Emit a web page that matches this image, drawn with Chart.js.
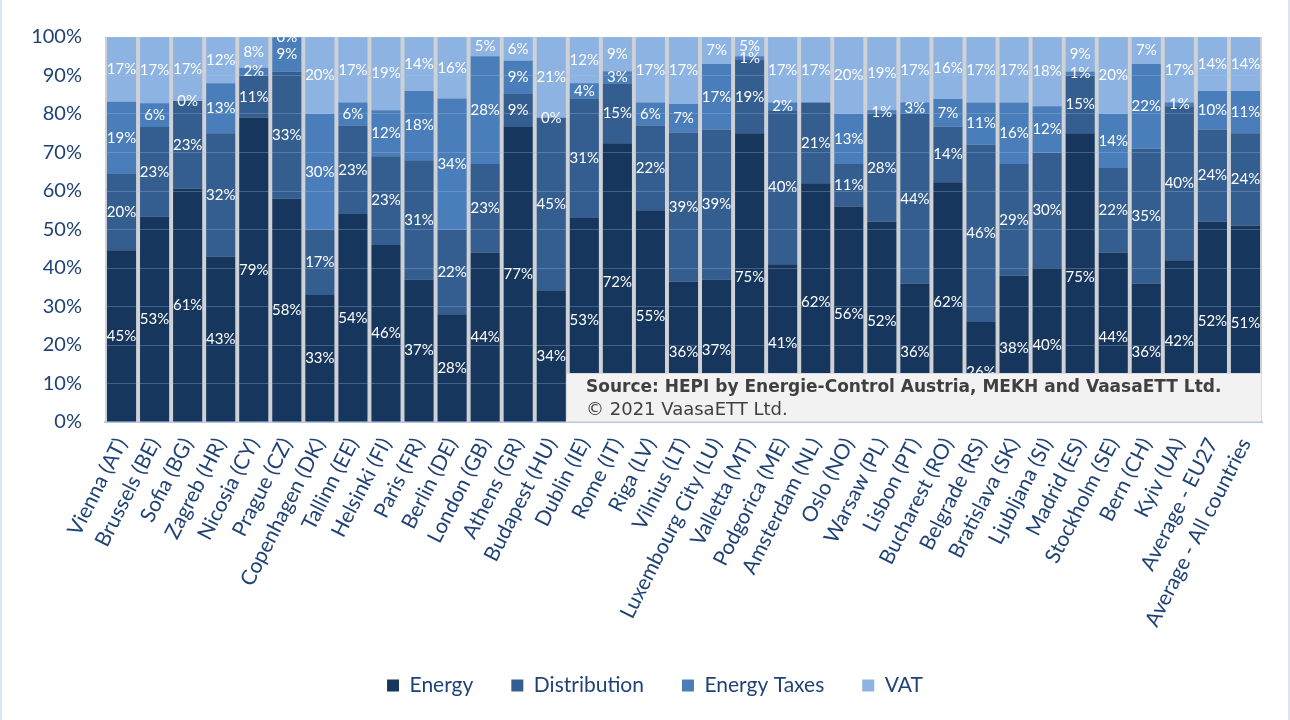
<!DOCTYPE html>
<html>
<head>
<meta charset="utf-8">
<script src="https://cdn.jsdelivr.net/npm/chart.js@4"></script>
<style>
  html, body { margin: 0; padding: 0; background: #fff; }
  #wrap { position: relative; width: 1290px; height: 720px; box-sizing: border-box; border-left: 2px solid #dbe5f1; border-right: 2px solid #dbe5f1; }
</style>
</head>
<body>
<div id="wrap"><canvas id="grafico" width="1286" height="720"></canvas></div>
<script>
// Categorias e séries (valores em %)
const cidades = [
  "Vienna (AT)", "Brussels (BE)", "Sofia (BG)", "Zagreb (HR)", "Nicosia (CY)", "Prague (CZ)",
  "Copenhagen (DK)", "Tallinn (EE)", "Helsinki (FI)", "Paris (FR)", "Berlin (DE)", "London (GB)",
  "Athens (GR)", "Budapest (HU)", "Dublin (IE)", "Rome (IT)", "Riga (LV)", "Vilnius (LT)",
  "Luxembourg City (LU)", "Valletta (MT)", "Podgorica (ME)", "Amsterdam (NL)", "Oslo (NO)", "Warsaw (PL)",
  "Lisbon (PT)", "Bucharest (RO)", "Belgrade (RS)", "Bratislava (SK)", "Ljubljana (SI)", "Madrid (ES)",
  "Stockholm (SE)", "Bern (CH)", "Kyiv (UA)", "Average - EU27", "Average - All countries"
]
const energia = [44.6, 53.4, 60.6, 43, 79, 58, 33, 54, 46, 37, 28, 44, 76.6, 34, 53, 72.4, 55, 36.4, 37, 75, 41, 62, 56, 52, 36, 62.3, 26, 38, 40, 75, 44, 36, 42, 52, 51]
const distribuicao = [19.8, 23.2, 22.8, 32, 11, 33, 17, 23, 23, 31, 22, 23, 8.6, 45, 31, 15.4, 22, 38.8, 39, 19, 40, 21, 11, 28, 44, 14.4, 46, 29, 30, 15, 22, 35, 40, 24, 24]
const impostos = [18.8, 6.2, 0, 13, 2, 9, 30, 6, 12, 18, 34, 28, 8.6, 0, 4, 3.3, 6, 7.4, 17, 1, 2, null, 13, 1, 3, 7.2, 11, 16, 12, 1, 14, 22, 1, 10, 11]
const iva = [16.8, 17.2, 16.6, 12, 8, 0, 20, 17, 19, 14, 16, 5, 6.2, 21, 12, 8.9, 17, 17.4, 7, 5, 17, 17, 20, 19, 17, 16.1, 17, 17, 18, 9, 20, 7, 17, 14, 14]
const ticksY = [0, 10, 20, 30, 40, 50, 60, 70, 80, 90, 100]

const corTexto = "#1F4276"

// Fundo cinza atrás das barras (espaços entre colunas)
const fundoPlugin = {
  id: "fundo",
  beforeDraw(chart) {
    const { ctx, chartArea: a } = chart
    ctx.save()
    ctx.fillStyle = "#cfd1d4"
    ctx.fillRect(a.left, a.top, a.right - a.left, a.bottom - a.top)
    ctx.restore()
  }
}

// Rótulos brancos no centro de cada segmento
const rotulosPlugin = {
  id: "rotulos",
  afterDatasetsDraw(chart) {
    const { ctx, chartArea: a } = chart
    ctx.save()
    ctx.beginPath()
    ctx.rect(a.left, a.top, a.right - a.left, a.bottom - a.top)
    ctx.clip()
    ctx.font = "15px Lato"
    ctx.fillStyle = "#ffffff"
    ctx.textAlign = "center"
    ctx.textBaseline = "middle"
    chart.data.datasets.forEach((ds, i) => {
      const meta = chart.getDatasetMeta(i)
      meta.data.forEach((el, j) => {
        const v = ds.data[j]
        if (v === null || v === undefined) return
        ctx.fillText(Math.round(v) + "%", el.x, (el.y + el.base) / 2)
      })
    })
    ctx.restore()
  }
}

// Caixa da fonte dos dados
const fontePlugin = {
  id: "fonte",
  afterDraw(chart) {
    const { ctx, chartArea: a } = chart
    const x0 = 564, y0 = a.bottom - 49
    ctx.save()
    ctx.fillStyle = "#f2f2f2"
    ctx.fillRect(x0, y0, a.right - x0, a.bottom - y0)
    ctx.strokeStyle = "#d9dde3"
    ctx.lineWidth = 1
    ctx.strokeRect(x0 + 0.5, y0 + 0.5, a.right - x0 - 1, a.bottom - y0 - 1)
    ctx.fillStyle = "#404040"
    ctx.textAlign = "left"
    ctx.textBaseline = "middle"
    ctx.font = "bold 17px 'DejaVu Sans'"
    ctx.fillText("Source: HEPI by Energie-Control Austria, MEKH and VaasaETT Ltd.", x0 + 20, y0 + 15)
    ctx.font = "18px 'DejaVu Sans'"
    ctx.fillText("© 2021 VaasaETT Ltd.", x0 + 20, y0 + 37)
    ctx.restore()
  }
}

const ctxGrafico = document.getElementById("grafico").getContext("2d")
new Chart(ctxGrafico, {
  type: "bar",
  data: {
    labels: cidades,
    datasets: [
      { label: "Energy", data: energia, backgroundColor: "#17365d" },
      { label: "Distribution", data: distribuicao, backgroundColor: "#355e90" },
      { label: "Energy Taxes", data: impostos, backgroundColor: "#4a7ebb" },
      { label: "VAT", data: iva, backgroundColor: "#8db3e2" }
    ]
  },
  options: {
    responsive: false,
    animation: false,
    barPercentage: 0.88,
    categoryPercentage: 1,
    layout: { padding: { left: 26, right: 6, top: 37, bottom: 14 } },
    plugins: {
      legend: {
        position: "bottom",
        labels: {
          color: corTexto,
          font: { family: "Lato", size: 21 },
          boxWidth: 12,
          boxHeight: 12,
          padding: 38
        }
      },
      tooltip: { enabled: false }
    },
    scales: {
      x: {
        stacked: true,
        grid: { display: false },
        border: { color: "#b8cce4", width: 2 },
        afterFit: axis => { axis.height = 215 },
        ticks: {
          color: corTexto,
          font: { family: "Lato", size: 21 },
          minRotation: 63,
          maxRotation: 63,
          autoSkip: false,
          padding: 4
        }
      },
      y: {
        stacked: true,
        min: 0,
        max: 100,
        afterBuildTicks: axis => { axis.ticks = ticksY.map(v => ({ value: v })) },
        afterFit: axis => { axis.width = 77 },
        grid: { color: "rgba(170,195,225,0.3)", z: 1, drawTicks: false },
        border: { display: false },
        ticks: {
          color: corTexto,
          font: { family: "Lato", size: 20 },
          padding: 23,
          callback: v => v + "%"
        }
      },
      // eixo vazio só para reservar a margem direita
      margem: {
        type: "linear",
        position: "right",
        grid: { display: false },
        border: { display: false },
        ticks: { display: false },
        afterFit: axis => { axis.width = 20 }
      }
    }
  },
  plugins: [fundoPlugin, rotulosPlugin, fontePlugin]
})
</script>
</body>
</html>
